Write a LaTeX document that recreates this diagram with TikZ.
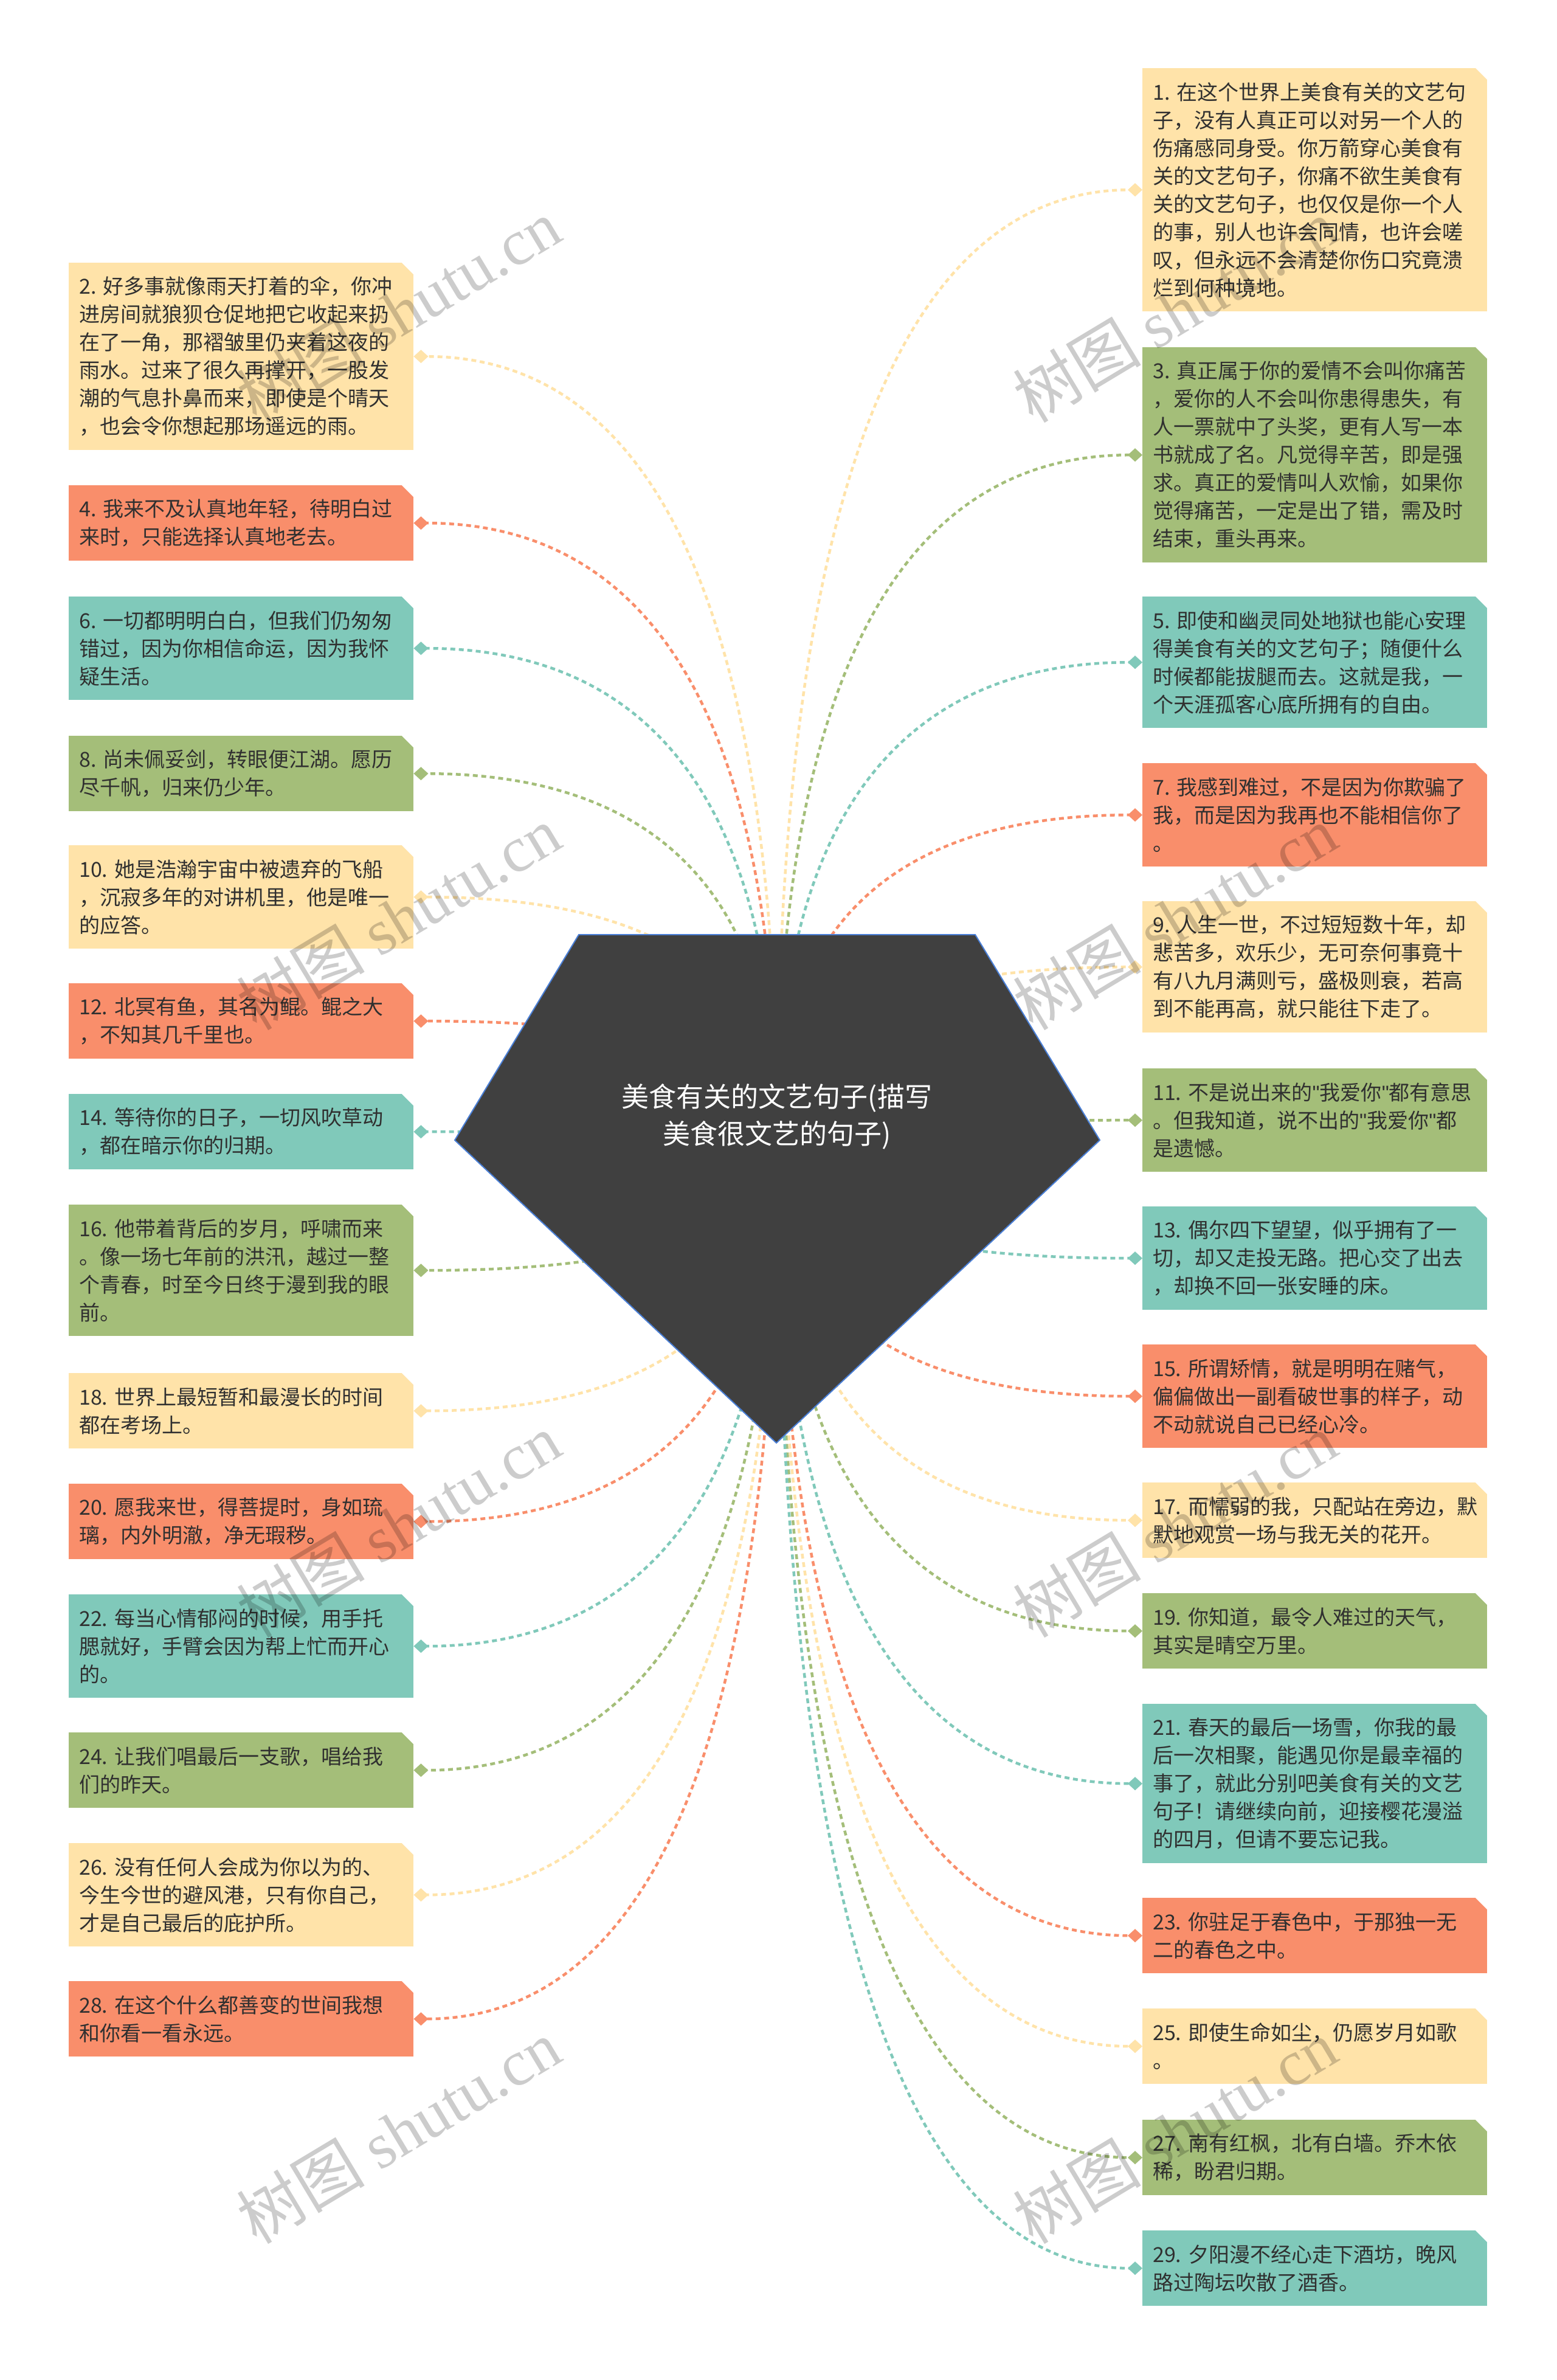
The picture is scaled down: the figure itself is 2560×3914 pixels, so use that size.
\documentclass[tikz,border=0pt]{standalone}
\usepackage{fontspec}
\setmainfont{Noto Sans CJK SC}
\newfontfamily\wmlatin{Liberation Serif}
\newfontfamily\qfont{Liberation Sans}
\newcommand{\qq}{{\qfont\symbol{34}}}
\usetikzlibrary{arrows.meta,calc}
\pgfdeclarelayer{background}
\pgfdeclarelayer{foreground}
\pgfsetlayers{background,main,foreground}
\definecolor{cyel}{HTML}{FFE3A9}
\definecolor{cora}{HTML}{F98E6B}
\definecolor{ctea}{HTML}{80C9BA}
\definecolor{coli}{HTML}{A4BE79}
\definecolor{ctxt}{HTML}{303030}
\definecolor{cdark}{HTML}{404040}
\definecolor{cblue}{HTML}{4A7FD6}
\tikzset{
  card/.style={rectangle, anchor=north west, inner xsep=17pt, inner ysep=0pt,
    text width=533pt, align=left, text=ctxt,
    font=\fontsize{34pt}{46pt}\selectfont,
    path picture={\fill[white] (path picture bounding box.north east) -- ++(-19pt,0pt) -- ++(19pt,-19pt) -- cycle;}},
  link/.style={line width=4.5pt, dash pattern=on 8pt off 6pt, -{Diamond[length=24pt,width=22pt]}},
  title/.style={text=white, align=center, font=\fontsize{45pt}{61pt}\selectfont},
  wm/.style={rotate=31, text=black, opacity=0.2, font=\fontsize{106pt}{110pt}\selectfont}
}
\begin{document}
\begin{tikzpicture}[x=1pt,y=-1pt]
\useasboundingbox (0,0) rectangle (2560,3914);
\begin{pgfonlayer}{background}
\fill[white] (0,0) rectangle (2560,3914);
\end{pgfonlayer}
\coordinate (hub) at (1278,1871);
% left column
\node[card, fill=cyel, minimum height=308pt] (b2) at (113,432) {2.~好多事就像雨天打着的伞，你冲\\进房间就狼狈仓促地把它收起来扔\\在了一角，那褶皱里仍夹着这夜的\\雨水。过来了很久再撑开，一股发\\潮的气息扑鼻而来，即使是个晴天\\，也会令你想起那场遥远的雨。};
\node[card, fill=cora, minimum height=124pt] (b4) at (113,798) {4.~我来不及认真地年轻，待明白过\\来时，只能选择认真地老去。};
\node[card, fill=ctea, minimum height=170pt] (b6) at (113,981) {6.~一切都明明白白，但我们仍匆匆\\错过，因为你相信命运，因为我怀\\疑生活。};
\node[card, fill=coli, minimum height=124pt] (b8) at (113,1210) {8.~尚未佩妥剑，转眼便江湖。愿历\\尽千帆，归来仍少年。};
\node[card, fill=cyel, minimum height=170pt] (b10) at (113,1390) {10.~她是浩瀚宇宙中被遗弃的飞船\\，沉寂多年的对讲机里，他是唯一\\的应答。};
\node[card, fill=cora, minimum height=124pt] (b12) at (113,1617) {12.~北冥有鱼，其名为鲲。鲲之大\\，不知其几千里也。};
\node[card, fill=ctea, minimum height=124pt] (b14) at (113,1799) {14.~等待你的日子，一切风吹草动\\，都在暗示你的归期。};
\node[card, fill=coli, minimum height=216pt] (b16) at (113,1981) {16.~他带着背后的岁月，呼啸而来\\。像一场七年前的洪汛，越过一整\\个青春，时至今日终于漫到我的眼\\前。};
\node[card, fill=cyel, minimum height=124pt] (b18) at (113,2258) {18.~世界上最短暂和最漫长的时间\\都在考场上。};
\node[card, fill=cora, minimum height=124pt] (b20) at (113,2440) {20.~愿我来世，得菩提时，身如琉\\璃，内外明澈，净无瑕秽。};
\node[card, fill=ctea, minimum height=170pt] (b22) at (113,2622) {22.~每当心情郁闷的时候，用手托\\腮就好，手臂会因为帮上忙而开心\\的。};
\node[card, fill=coli, minimum height=124pt] (b24) at (113,2849) {24.~让我们唱最后一支歌，唱给我\\们的昨天。};
\node[card, fill=cyel, minimum height=170pt] (b26) at (113,3031) {26.~没有任何人会成为你以为的、\\今生今世的避风港，只有你自己，\\才是自己最后的庇护所。};
\node[card, fill=cora, minimum height=124pt] (b28) at (113,3258) {28.~在这个什么都善变的世间我想\\和你看一看永远。};
% right column
\node[card, fill=cyel, minimum height=400pt] (b1) at (1879,112) {1.~在这个世界上美食有关的文艺句\\子，没有人真正可以对另一个人的\\伤痛感同身受。你万箭穿心美食有\\关的文艺句子，你痛不欲生美食有\\关的文艺句子，也仅仅是你一个人\\的事，别人也许会同情，也许会嗟\\叹，但永远不会清楚你伤口究竟溃\\烂到何种境地。};
\node[card, fill=coli, minimum height=354pt] (b3) at (1879,571) {3.~真正属于你的爱情不会叫你痛苦\\，爱你的人不会叫你患得患失，有\\人一票就中了头奖，更有人写一本\\书就成了名。凡觉得辛苦，即是强\\求。真正的爱情叫人欢愉，如果你\\觉得痛苦，一定是出了错，需及时\\结束，重头再来。};
\node[card, fill=ctea, minimum height=216pt] (b5) at (1879,981) {5.~即使和幽灵同处地狱也能心安理\\得美食有关的文艺句子；随便什么\\时候都能拔腿而去。这就是我，一\\个天涯孤客心底所拥有的自由。};
\node[card, fill=cora, minimum height=170pt] (b7) at (1879,1255) {7.~我感到难过，不是因为你欺骗了\\我，而是因为我再也不能相信你了\\。};
\node[card, fill=cyel, minimum height=216pt] (b9) at (1879,1482) {9.~人生一世，不过短短数十年，却\\悲苦多，欢乐少，无可奈何事竟十\\有八九月满则亏，盛极则衰，若高\\到不能再高，就只能往下走了。};
\node[card, fill=coli, minimum height=170pt] (b11) at (1879,1757) {11.~不是说出来的\qq 我爱你\qq 都有意思\\。但我知道，说不出的\qq 我爱你\qq 都\\是遗憾。};
\node[card, fill=ctea, minimum height=170pt] (b13) at (1879,1984) {13.~偶尔四下望望，似乎拥有了一\\切，却又走投无路。把心交了出去\\，却换不回一张安睡的床。};
\node[card, fill=cora, minimum height=170pt] (b15) at (1879,2211) {15.~所谓矫情，就是明明在赌气，\\偏偏做出一副看破世事的样子，动\\不动就说自己已经心冷。};
\node[card, fill=cyel, minimum height=124pt] (b17) at (1879,2438) {17.~而懦弱的我，只配站在旁边，默\\默地观赏一场与我无关的花开。};
\node[card, fill=coli, minimum height=124pt] (b19) at (1879,2620) {19.~你知道，最令人难过的天气，\\其实是晴空万里。};
\node[card, fill=ctea, minimum height=262pt] (b21) at (1879,2802) {21.~春天的最后一场雪，你我的最\\后一次相聚，能遇见你是最幸福的\\事了，就此分别吧美食有关的文艺\\句子！请继续向前，迎接樱花漫溢\\的四月，但请不要忘记我。};
\node[card, fill=cora, minimum height=124pt] (b23) at (1879,3121) {23.~你驻足于春色中，于那独一无\\二的春色之中。};
\node[card, fill=cyel, minimum height=124pt] (b25) at (1879,3303) {25.~即使生命如尘，仍愿岁月如歌\\。};
\node[card, fill=coli, minimum height=124pt] (b27) at (1879,3486) {27.~南有红枫，北有白墙。乔木依\\稀，盼君归期。};
\node[card, fill=ctea, minimum height=124pt] (b29) at (1879,3668) {29.~夕阳漫不经心走下酒坊，晚风\\路过陶坛吹散了酒香。};
% connectors
\begin{pgfonlayer}{background}
\foreach \nm/\an/\cl in {b2/east/cyel,b4/east/cora,b6/east/ctea,b8/east/coli,b10/east/cyel,b12/east/cora,b14/east/ctea,b16/east/coli,b18/east/cyel,b20/east/cora,b22/east/ctea,b24/east/coli,b26/east/cyel,b28/east/cora,b1/west/cyel,b3/west/coli,b5/west/ctea,b7/west/cora,b9/west/cyel,b11/west/coli,b13/west/ctea,b15/west/cora,b17/west/cyel,b19/west/coli,b21/west/ctea,b23/west/cora,b25/west/cyel,b27/west/coli,b29/west/ctea}{
  \coordinate (q) at (hub |- \nm.\an);
  \draw[link, color=\cl] (hub) .. controls ($(hub)!0.667!(q)$) and ($(\nm.\an)!0.667!(q)$) .. (\nm.\an);
}
\end{pgfonlayer}
% central pentagon
\fill[cdark, draw=cblue, line width=2pt] (952,1537) -- (1604,1537) -- (1809,1875) -- (1277,2373) -- (748,1875) -- cycle;
\node[title] (root) at (1278,1836) {美食有关的文艺句子(描写\\美食很文艺的句子)};
% watermarks
\begin{pgfonlayer}{foreground}
\foreach \wx/\wy [count=\i] in {655/511,1932/511,655/1509,1932/1509,655/2508,1932/2508,655/3505,1932/3505}{
  \node[wm] (wm\i) at (\wx,\wy) {树图 {\wmlatin shutu.cn}};
}
\end{pgfonlayer}
\end{tikzpicture}
\end{document}
